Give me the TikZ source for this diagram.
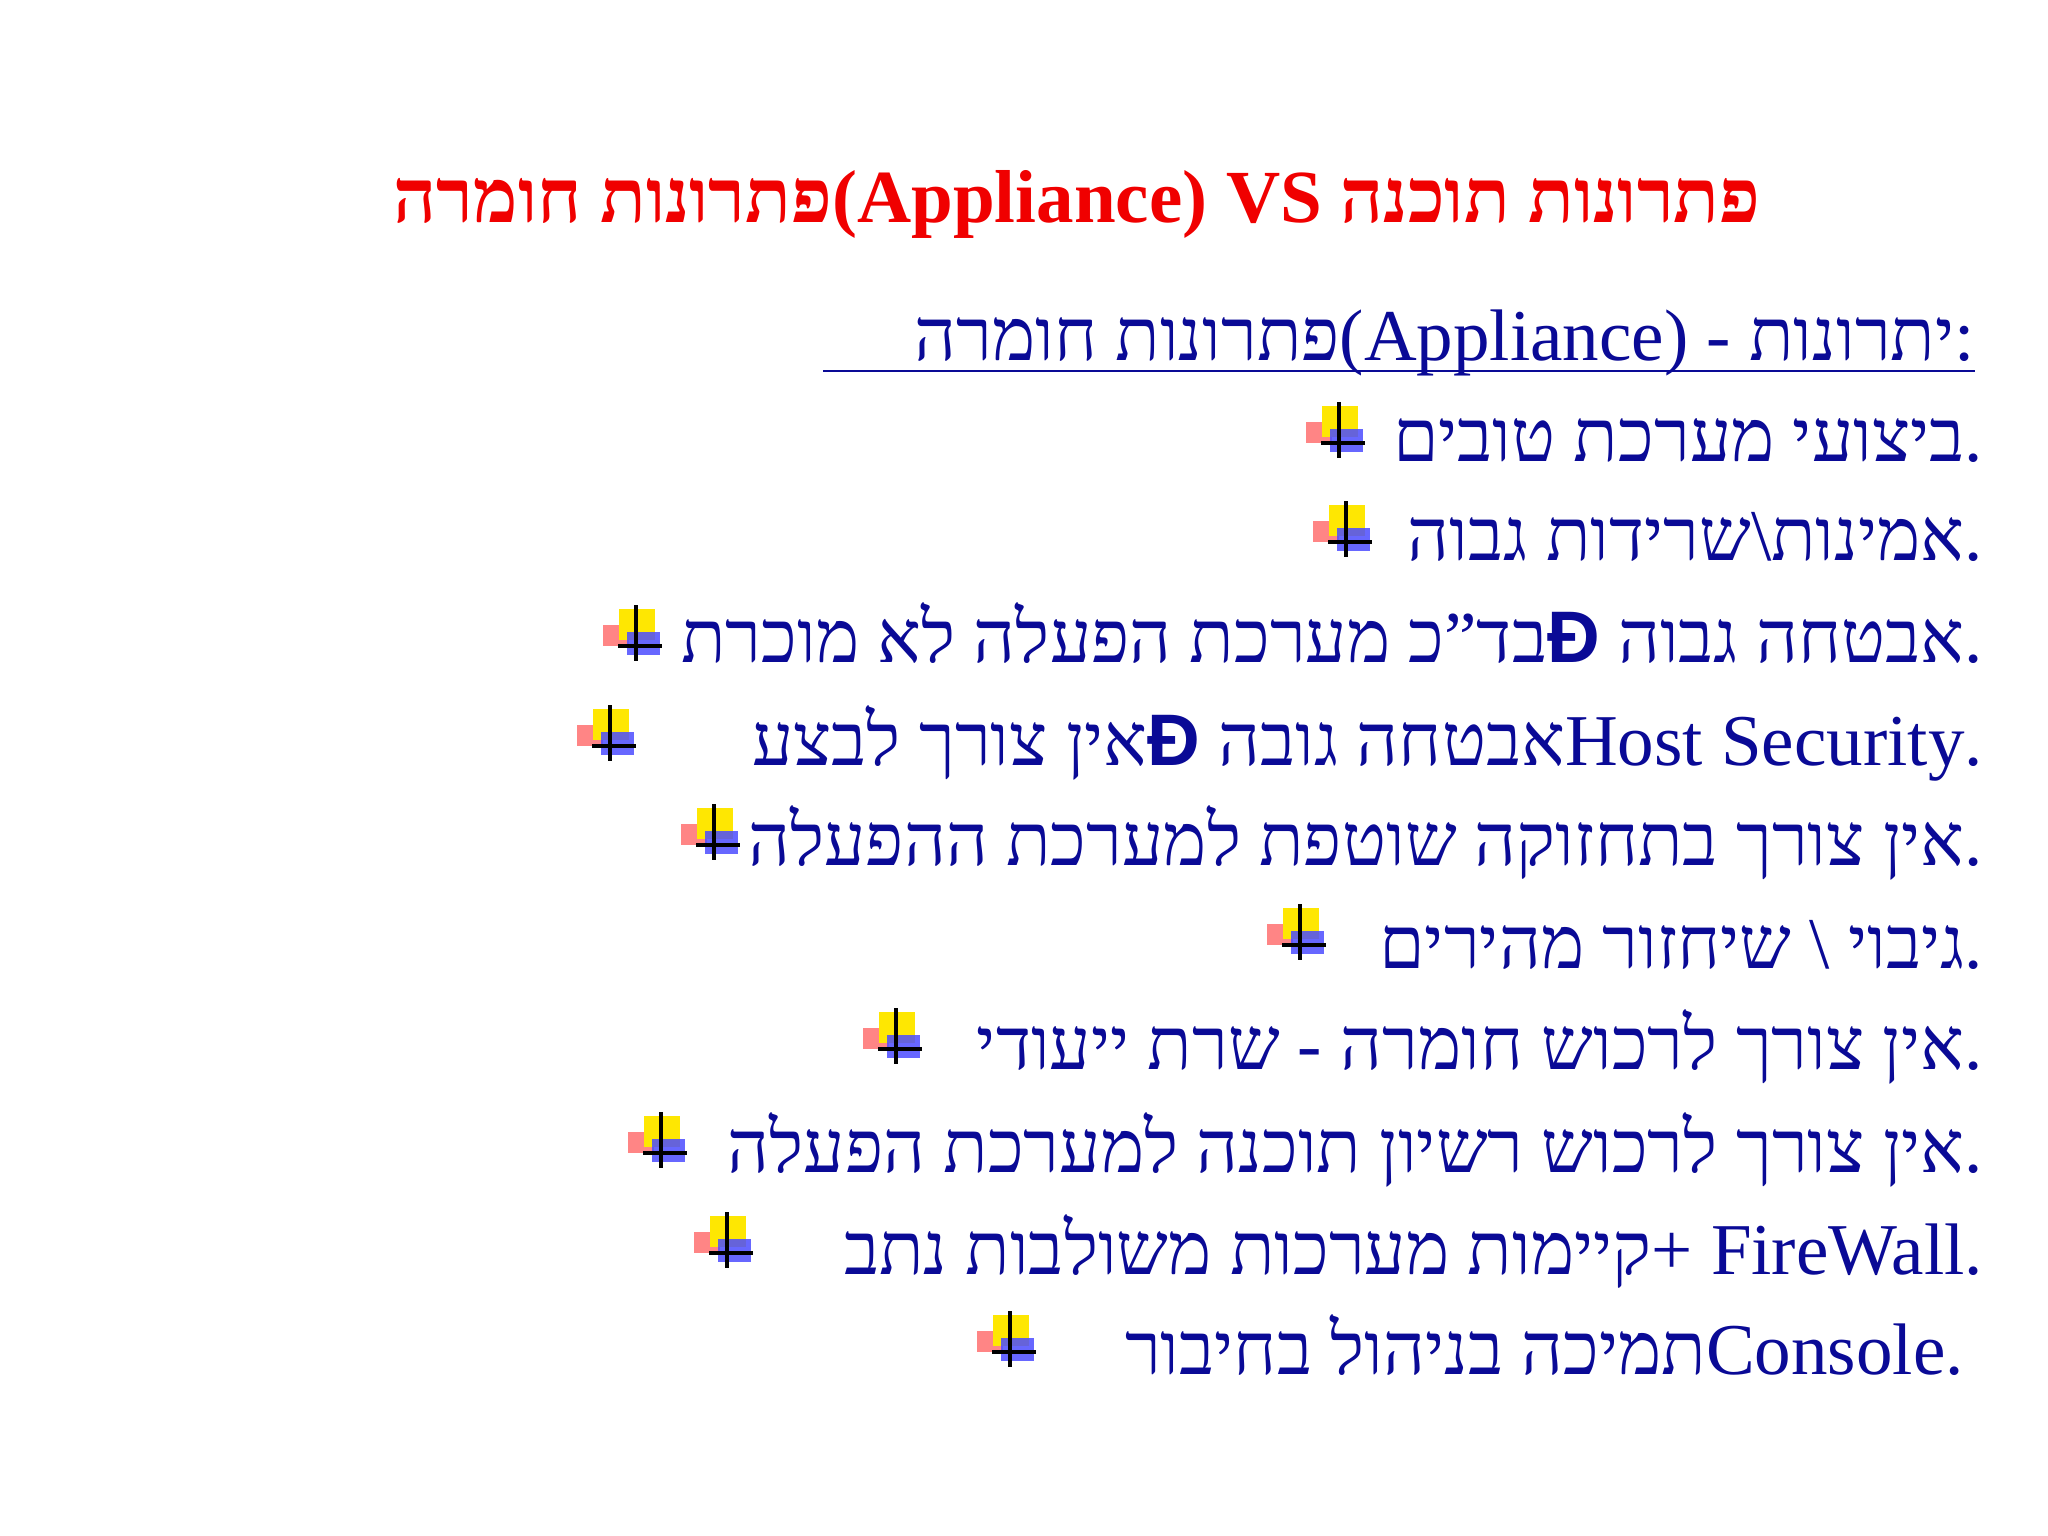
\documentclass[tikz,border=0pt]{standalone}
\usepackage{fontspec}
\setmainfont{Liberation Serif}
\newfontfamily\dsans{Liberation Sans}
\TeXXeTstate=1
\definecolor{txt}{RGB}{10,10,150}
\definecolor{ttl}{RGB}{240,0,0}
\tikzset{
 line/.style={anchor=base east,inner sep=0pt,text=txt,font=\fontsize{73}{80}\selectfont},
 bul/.pic={
  \fill[red!60,opacity=.8] (-33,-16) rectangle (-7,5);
  \fill[yellow!90!orange] (-17,-32) rectangle (19,-1);
  \fill[blue!70,opacity=.85] (-9,-9) rectangle (24,14);
  \draw[line width=4pt] (0,-36) -- (0,20);
  \draw[line width=4pt] (-18,5) -- (26,5);
 }
}
\newcommand\DD{{\dsans\bfseries Đ}}
\begin{document}
\begin{tikzpicture}[x=1pt,y=-1pt]
\useasboundingbox (0,0) rectangle (2048,1536);
\node[anchor=base,inner sep=0pt,text=ttl,font=\fontsize{75}{80}\selectfont\bfseries] (title) at (1077,222)
 {\beginR פתרונות תוכנה \beginL(Appliance) VS\endL{}פתרונות חומרה\endR};
\node[line] (sub) at (1975,360) {\beginR :יתרונות - \beginL(Appliance)\endL{}פתרונות חומרה \endR};
\draw[txt,line width=2.5pt] (823,371) -- (1975,371);
\node[line] (l1) at (1983,461) {\beginR .ביצועי מערכת טובים\endR};
\node[line] (l2) at (1983,560) {\beginR .אמינות\textbackslash שרידות גבוה\endR};
\node[line] (l3) at (1983,662) {\beginR .אבטחה גבוה \DD{}בד"כ מערכת הפעלה לא מוכרת\endR};
\node[line] (l4) at (1983,765) {\beginR .\beginL Host Security\endL{}אבטחה גובה \DD{}אין צורך לבצע\endR};
\node[line] (l5) at (1983,865) {\beginR .אין צורך בתחזוקה שוטפת למערכת ההפעלה\endR};
\node[line] (l6) at (1983,968) {\beginR .גיבוי \textbackslash{} שיחזור מהירים\endR};
\node[line] (l7) at (1983,1069) {\beginR .אין צורך לרכוש חומרה - שרת ייעודי\endR};
\node[line] (l8) at (1983,1172) {\beginR .אין צורך לרכוש רשיון תוכנה למערכת הפעלה\endR};
\node[line] (l9) at (1983,1274) {\beginR .\beginL+ FireWall\endL{}קיימות מערכות משולבות נתב\endR};
\node[line] (l10) at (1964,1374) {\beginR .\beginL Console\endL{}תמיכה בניהול בחיבור\endR};
\foreach \x/\y in {1339/438,1346/537,636/641,610/741,714/840,1300/940,896/1044,661/1148,727/1248,1010/1347}
 \pic at (\x,\y) {bul};
\end{tikzpicture}
\end{document}
